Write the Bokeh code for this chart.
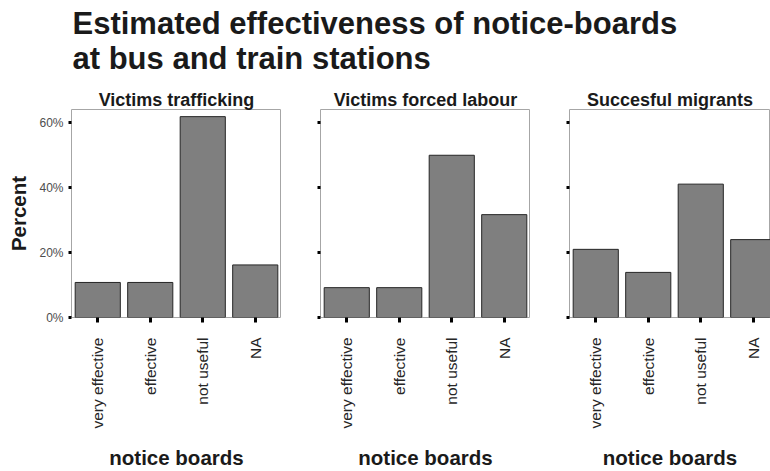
from bokeh.plotting import figure
from bokeh.layouts import column, row
from bokeh.models import ColumnDataSource, FixedTicker, PrintfTickFormatter, Range1d, Label
from bokeh.embed import file_html
from bokeh.resources import INLINE

# ---- data ----
categories = ["very effective", "effective", "not useful", "NA"]
panel_titles = ["Victims trafficking", "Victims forced labour", "Succesful migrants"]
victims_trafficking = [10.8, 10.8, 61.9, 16.2]
victims_forced_labour = [9.2, 9.2, 50.0, 31.7]
succesful_migrants = [21.0, 13.9, 41.1, 24.0]
y_ticks = [0, 20, 40, 60]
y_max = 64.1
title_lines = ["Estimated effectiveness of notice-boards", "at bus and train stations"]
x_title = "notice boards"
y_title = "Percent"

FONT = "Liberation Sans"
FRAME_W = 210
HEADER_H = 78
PANEL_H = 471 - HEADER_H
TOTAL_W = 770


def make_panel(title, vals, first, width, left):
    n = len(categories)
    frame_w = width - left
    x_end = n * frame_w / FRAME_W
    xs = [i + 0.5 for i in range(n)]
    src = ColumnDataSource(dict(x=xs, top=vals, cat=categories))
    p = figure(width=width, height=PANEL_H,
               x_range=Range1d(0, x_end), y_range=Range1d(0, y_max),
               output_backend="svg", toolbar_location=None, title=title,
               min_border_left=left, min_border_right=0,
               min_border_top=31, min_border_bottom=152)
    p.vbar(x="x", top="top", bottom=0, width=0.86, source=src,
           fill_color="#7f7f7f", line_color="#262626", line_width=1)
    p.xgrid.visible = False
    p.ygrid.visible = False
    p.outline_line_color = "#a6a6a6"
    p.outline_line_width = 1
    p.background_fill_color = "white"
    p.border_fill_color = "white"

    p.title.align = "center"
    p.title.text_font = FONT
    p.title.text_font_size = "18px"
    p.title.text_font_style = "bold"
    p.title.text_color = "#1a1a1a"
    p.title.standoff = 0

    xa = p.xaxis[0]
    xa.ticker = FixedTicker(ticks=xs)
    xa.major_label_overrides = {x: c for x, c in zip(xs, categories)}
    xa.major_label_orientation = 1.5707963
    xa.major_label_text_font = FONT
    xa.major_label_text_font_size = "15.5px"
    xa.major_label_text_color = "#262626"
    xa.major_label_standoff = 15
    xa.axis_line_color = None
    xa.major_tick_in = 0
    xa.major_tick_out = 5
    xa.major_tick_line_width = 3
    xa.major_tick_line_color = "black"
    xa.minor_tick_line_color = None
    xa.axis_label = x_title
    xa.axis_label_text_font = FONT
    xa.axis_label_text_font_size = "20.5px"
    xa.axis_label_text_font_style = "bold"
    xa.axis_label_text_color = "#1a1a1a"
    xa.axis_label_standoff = 14

    ya = p.yaxis[0]
    ya.axis_line_color = None
    if first:
        ya.ticker = FixedTicker(ticks=y_ticks)
        ya.major_tick_in = 0
        ya.major_tick_out = 3
        ya.major_tick_line_width = 3
        ya.major_tick_line_color = "black"
        ya.minor_tick_line_color = None
        ya.formatter = PrintfTickFormatter(format="%d%%")
        ya.major_label_text_font = FONT
        ya.major_label_text_font_size = "12px"
        ya.major_label_text_color = "#4d4d4d"
        ya.major_label_standoff = 5
        ya.axis_label = y_title
        ya.axis_label_text_font = FONT
        ya.axis_label_text_font_size = "20.5px"
        ya.axis_label_text_font_style = "bold"
        ya.axis_label_text_color = "#1a1a1a"
        ya.axis_label_standoff = 6
    else:
        # tick marks only, no labels
        ya.ticker = FixedTicker(ticks=[], minor_ticks=y_ticks)
        ya.major_tick_line_color = None
        ya.minor_tick_in = 0
        ya.minor_tick_out = 3
        ya.minor_tick_line_width = 3
        ya.minor_tick_line_color = "black"
    return p


f1 = make_panel(panel_titles[0], victims_trafficking, True, 281, 71)
f2 = make_panel(panel_titles[1], victims_forced_labour, False, 249, 39)
f3 = make_panel(panel_titles[2], succesful_migrants, False, TOTAL_W - 281 - 249, 39)

header = figure(width=TOTAL_W, height=HEADER_H, x_range=Range1d(0, 1), y_range=Range1d(0, 1),
                output_backend="svg", toolbar_location=None, min_border=0)
header.axis.visible = False
header.xgrid.visible = False
header.ygrid.visible = False
header.outline_line_color = None
for txt, yy in zip(title_lines, [55, 20]):
    header.add_layout(Label(x=72, y=yy, x_units="screen", y_units="screen", text=txt,
                            text_font=FONT, text_font_size="31px", text_font_style="bold",
                            text_color="#1a1a1a", text_baseline="alphabetic"))

layout = column(header, row(f1, f2, f3))
open("out.html", "w").write(file_html(layout, INLINE))
